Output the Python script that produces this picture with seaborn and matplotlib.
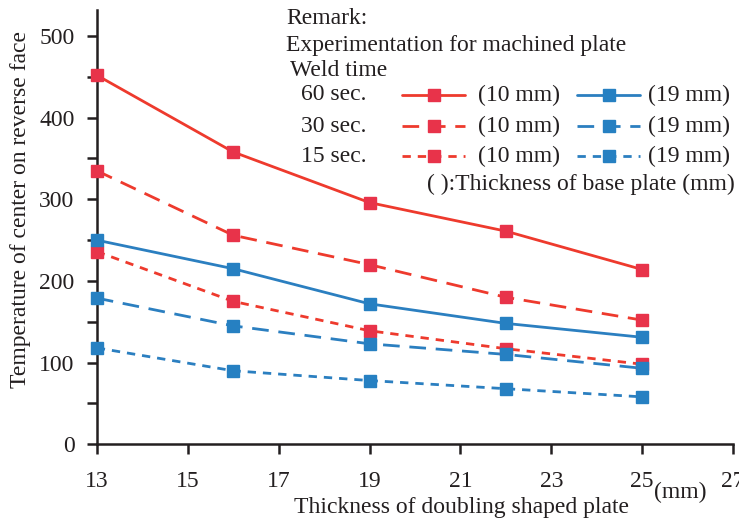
import numpy as np
import pandas as pd
import matplotlib
matplotlib.use("Agg")
import matplotlib.pyplot as plt
from matplotlib.lines import Line2D
import seaborn as sns

# --- data ---
thickness = [13, 16, 19, 22, 25]
t60_10 = [452, 358, 296, 261, 214]
t30_10 = [335, 256, 220, 180, 152]
t15_10 = [236, 175, 139, 117, 98]
t60_19 = [250, 215, 172, 148, 131]
t30_19 = [179, 145, 123, 110, 93]
t15_19 = [118, 90, 78, 68, 58]

weld_times = ["60 sec.", "30 sec.", "15 sec."]
base_labels = ["(10 mm)", "(19 mm)"]

sns.set_style("ticks")
plt.rcParams['font.family'] = ['Liberation Serif', 'DejaVu Serif']

FS = 17
ink = "#231f20"
red_line, red_mk = "#ee3a2d", "#e8334a"
blue_line, blue_mk = "#2b7fc0", "#2680c2"
styles = {"60 sec.": None, "30 sec.": (6, 3.5), "15 sec.": (3, 2.5)}

fig = plt.figure(figsize=(7.39, 5.22), dpi=100)
ax = fig.add_axes([0.131, 0.149, 0.861, 0.832])

series = [
    (t60_10, "60 sec.", red_line, red_mk),
    (t30_10, "30 sec.", red_line, red_mk),
    (t15_10, "15 sec.", red_line, red_mk),
    (t60_19, "60 sec.", blue_line, blue_mk),
    (t30_19, "30 sec.", blue_line, blue_mk),
    (t15_19, "15 sec.", blue_line, blue_mk),
]

lw = 2.0
for vals, wt, lc, mc in series:
    df = pd.DataFrame({"x": thickness, "y": vals})
    sns.lineplot(data=df, x="x", y="y", ax=ax, color=lc, lw=lw, legend=False)
    line = ax.lines[-1]
    if styles[wt] is not None:
        line.set_dashes(styles[wt])
    ax.plot(thickness, vals, ls="none", marker="s", ms=8.5, mfc=mc, mec=mc,
            clip_on=False, zorder=5)

ax.set_xlim(13, 27)
ax.set_ylim(0, 532)
ax.set_xticks(np.arange(13, 28, 2))
ax.set_yticks(np.arange(0, 501, 50))
ax.set_yticklabels([str(v) if v % 100 == 0 else "" for v in range(0, 501, 50)])
sns.despine(ax=ax)
for s in ["left", "bottom"]:
    ax.spines[s].set_linewidth(1.8)
    ax.spines[s].set_color(ink)
ax.tick_params(axis="both", labelsize=FS, length=7, width=1.8, color=ink,
               labelcolor=ink)
ax.tick_params(axis="y", pad=9)
ax.tick_params(axis="x", pad=12)
ax.set_xlabel("")
ax.set_ylabel("Temperature of center on reverse face", fontsize=FS, color=ink)
ax.yaxis.set_label_coords(-0.104, 0.54)

fig.text(461 / 739, 1 - 508 / 522, "Thickness of doubling shaped plate", fontsize=FS,
         ha="center", va="center", color=ink)
fig.text(680 / 739, 1 - 492 / 522, "(mm)", fontsize=FS, ha="center", va="center",
         color=ink)

# --- remark / legend block ---
def fx(px):
    return px / 739

def fy(py):
    return 1 - py / 522

tk = dict(fontsize=FS, va="center", color=ink)
fig.text(fx(286), fy(18), "Remark:", **tk)
fig.text(fx(286), fy(45), "Experimentation for machined plate", **tk)
fig.text(fx(290), fy(70), "Weld time", **tk)
rows_y = [95, 126, 156]
for wt, py in zip(weld_times, rows_y):
    fig.text(fx(301), fy(py), wt, **tk)
    for (x0, x1, txt_x, lc, mc, lab) in [(402, 465, 478, red_line, red_mk, base_labels[0]),
                                         (577, 640, 648, blue_line, blue_mk, base_labels[1])]:
        ln = Line2D([fx(x0), fx(x1)], [fy(py), fy(py)], transform=fig.transFigure,
                    color=lc, lw=lw)
        if styles[wt] is not None:
            ln.set_dashes(styles[wt])
        fig.add_artist(ln)
        fig.add_artist(Line2D([fx((x0 + x1) / 2)], [fy(py)], transform=fig.transFigure,
                              ls="none", marker="s", ms=8.5, mfc=mc, mec=mc))
        fig.text(fx(txt_x), fy(py), lab, **tk)
fig.text(fx(427), fy(184), "( ):Thickness of base plate (mm)", **tk)

fig.savefig("out.png", dpi=100)
